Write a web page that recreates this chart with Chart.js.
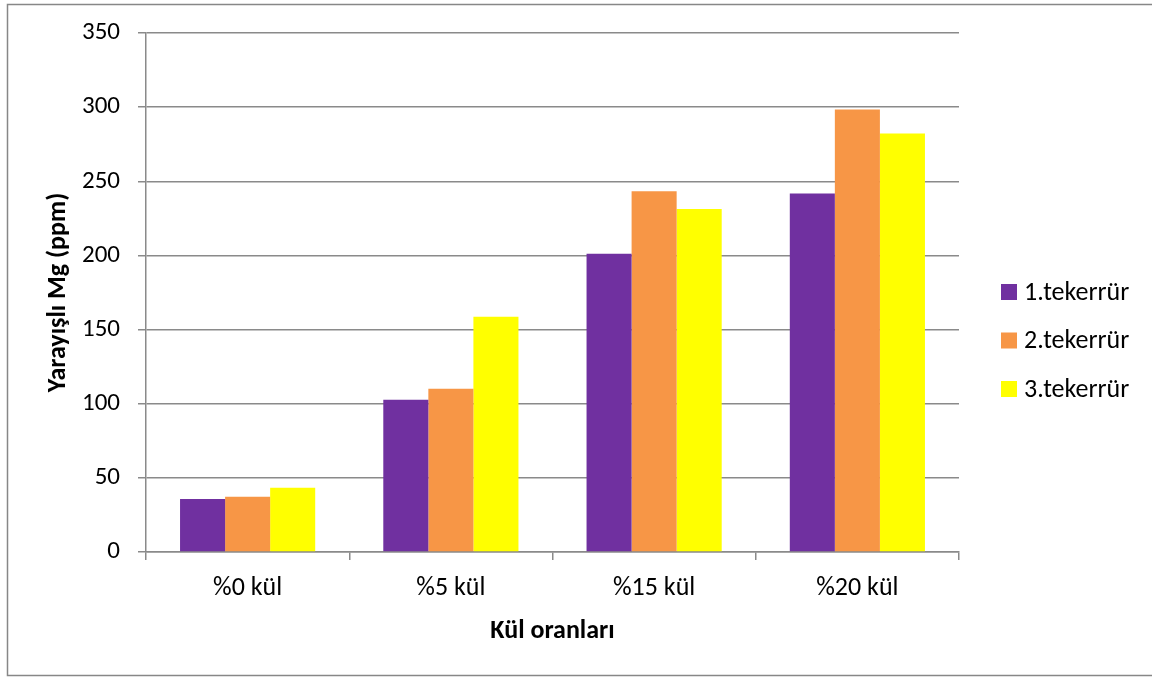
<!DOCTYPE html>
<html>
<head>
<meta charset="utf-8">
<script src="https://cdn.jsdelivr.net/npm/chart.js@4/dist/chart.umd.min.js"></script>
<style>
  html, body { margin: 0; padding: 0; background: #ffffff; }
  #wrap { width: 1152px; height: 678px; }
</style>
</head>
<body>
<div id="wrap"><canvas id="chart" width="1152" height="678"></canvas></div>
<script>
// Ash ratio categories and the three replicate measurements (ppm)
const categories = ['%0 kül', '%5 kül', '%15 kül', '%20 kül'];
const seriesNames = ['1.tekerrür', '2.tekerrür', '3.tekerrür'];
const tekerrur1 = [35.7, 102.7, 201.1, 241.8];
const tekerrur2 = [37.3, 110.1, 243.2, 298.4];
const tekerrur3 = [43.4, 158.7, 231.3, 282.3];
const yTickValues = [0, 50, 100, 150, 200, 250, 300, 350];
const seriesColors = ['#7030A0', '#F79646', '#FFFF00'];

const FONT = 'Carlito, Lato, "Liberation Sans", sans-serif';
const GRID = '#8a8a8a';

// Outer frame around the chart
const framePlugin = {
  id: 'frame',
  beforeDraw(chart) {
    const ctx = chart.ctx;
    ctx.save();
    ctx.fillStyle = '#ffffff';
    ctx.fillRect(0, 0, chart.width, chart.height);
    ctx.strokeStyle = '#878787';
    ctx.lineWidth = 1.5;
    ctx.beginPath();
    ctx.moveTo(chart.width + 2, 4.5);
    ctx.lineTo(7.5, 4.5);
    ctx.lineTo(7.5, 675.5);
    ctx.lineTo(chart.width + 2, 675.5);
    ctx.stroke();
    ctx.restore();
  }
};

// Legend on the right, one square swatch per series
const sideLegend = {
  id: 'sideLegend',
  afterDraw(chart) {
    const ctx = chart.ctx;
    ctx.save();
    ctx.font = '26px ' + FONT;
    ctx.textBaseline = 'middle';
    ctx.textAlign = 'left';
    chart.data.datasets.forEach((ds, i) => {
      const cy = 292 + i * 48.5;
      ctx.fillStyle = ds.backgroundColor;
      ctx.fillRect(1001, cy - 8, 16, 16);
      ctx.fillStyle = '#000000';
      ctx.fillText(ds.label, 1024, cy + 1);
    });
    ctx.restore();
  }
};

const datasets = [tekerrur1, tekerrur2, tekerrur3].map((vals, i) => ({
  label: seriesNames[i],
  data: vals,
  backgroundColor: seriesColors[i],
  borderWidth: 0,
  barPercentage: 1.0,
  categoryPercentage: 0.665
}));

new Chart(document.getElementById('chart'), {
  type: 'bar',
  data: { labels: categories, datasets },
  plugins: [framePlugin, sideLegend],
  options: {
    responsive: false,
    animation: false,
    devicePixelRatio: 1,
    layout: { padding: { left: 0, top: 33, right: 193, bottom: 0 } },
    plugins: { legend: { display: false }, tooltip: { enabled: false } },
    scales: {
      x: {
        offset: true,
        grid: {
          offset: true,
          drawOnChartArea: false,
          drawTicks: true,
          tickLength: 8,
          color: GRID,
          lineWidth: 1.5
        },
        border: { display: true, color: GRID, width: 1.5 },
        ticks: { color: '#000000', font: { family: FONT, size: 26 }, padding: 13 },
        title: {
          display: true,
          text: 'Kül oranları',
          color: '#000000',
          font: { family: FONT, size: 26, weight: 'bold' },
          padding: { top: 0, bottom: 31 }
        },
        afterFit(scale) { scale.height = 126; }
      },
      y: {
        min: 0,
        max: 350,
        afterBuildTicks(scale) { scale.ticks = yTickValues.map(v => ({ value: v })); },
        grid: {
          drawTicks: true,
          tickLength: 8,
          color: GRID,
          lineWidth: 1.5
        },
        border: { display: true, color: GRID, width: 1.5 },
        ticks: { color: '#000000', font: { family: FONT, size: 25 }, padding: 18 },
        title: {
          display: true,
          text: 'Yarayışlı Mg (ppm)',
          color: '#000000',
          font: { family: FONT, size: 26, weight: 'bold' },
          padding: { top: 43, bottom: 0 }
        },
        afterFit(scale) { scale.width = 146; }
      }
    }
  }
});
</script>
</body>
</html>
